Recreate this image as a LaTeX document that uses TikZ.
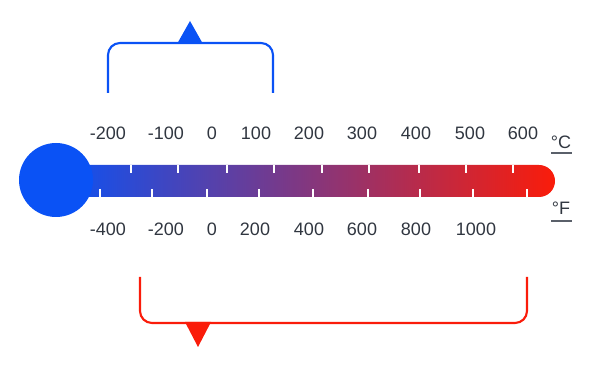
\documentclass[tikz,border=0pt]{standalone}
\usepackage{fontspec}
\setmainfont{Liberation Sans}
\definecolor{coldblue}{RGB}{10,82,245}
\definecolor{hotred}{RGB}{250,28,10}
\definecolor{labelgray}{RGB}{48,54,64}
\definecolor{rulegray}{RGB}{90,96,106}
\tikzset{
  scalelabel/.style={text=labelgray, inner sep=0, font=\fontsize{13.5}{16}\selectfont},
  tickmark/.style={draw=white, line width=1.4pt},
  bracket/.style={line width=1.6pt, rounded corners=9pt}
}
\begin{document}
\begin{tikzpicture}[x=0.75pt, y=-0.75pt]
  \useasboundingbox (0,0) rectangle (600,370);
% TUBE
  \path[left color=coldblue, right color=hotred]
    (56,165) -- (539,165) arc[start angle=-90, end angle=90, radius=16] -- (56,197) -- cycle;
  \node[circle, fill=coldblue, inner sep=0, minimum size=55.5pt] (bulb) at (56,180) {};

% CELSIUS
  \foreach \x in {131,178,227,274,322,369,419,466,513}
    \draw[tickmark] (\x,165) -- (\x,173);
  \foreach \x/\t [count=\i] in {108/-200,166/-100,212/0,256/100,309/200,362/300,416/400,470/500,523/600}
    \node[scalelabel] (c\i) at (\x,133) {\t};
  \node[scalelabel] (degc) at (561,142) {°C};
  \draw[rulegray, line width=0.9pt] (551,153) -- (572,153);

% FAHRENHEIT
  \foreach \x in {100,152,207,259,313,368,420,473,527}
    \draw[tickmark] (\x,189) -- (\x,197);
  \foreach \x/\t [count=\i] in {108/-400,166/-200,212/0,255/200,309/400,362/600,416/800,476/1000}
    \node[scalelabel] (f\i) at (\x,229) {\t};
  \node[scalelabel] (degf) at (561,208) {°F};
  \draw[rulegray, line width=0.9pt] (551,221) -- (572,221);

% RANGES
  \draw[bracket, coldblue] (108,93) -- (108,43) -- (273,43) -- (273,93);
  \fill[coldblue] (177,44) -- (190,21) -- (203,44) -- cycle;
  \draw[bracket, hotred] (140,277) -- (140,323) -- (527,323) -- (527,277);
  \fill[hotred] (185,322) -- (198,347) -- (211,322) -- cycle;
\end{tikzpicture}
\end{document}
